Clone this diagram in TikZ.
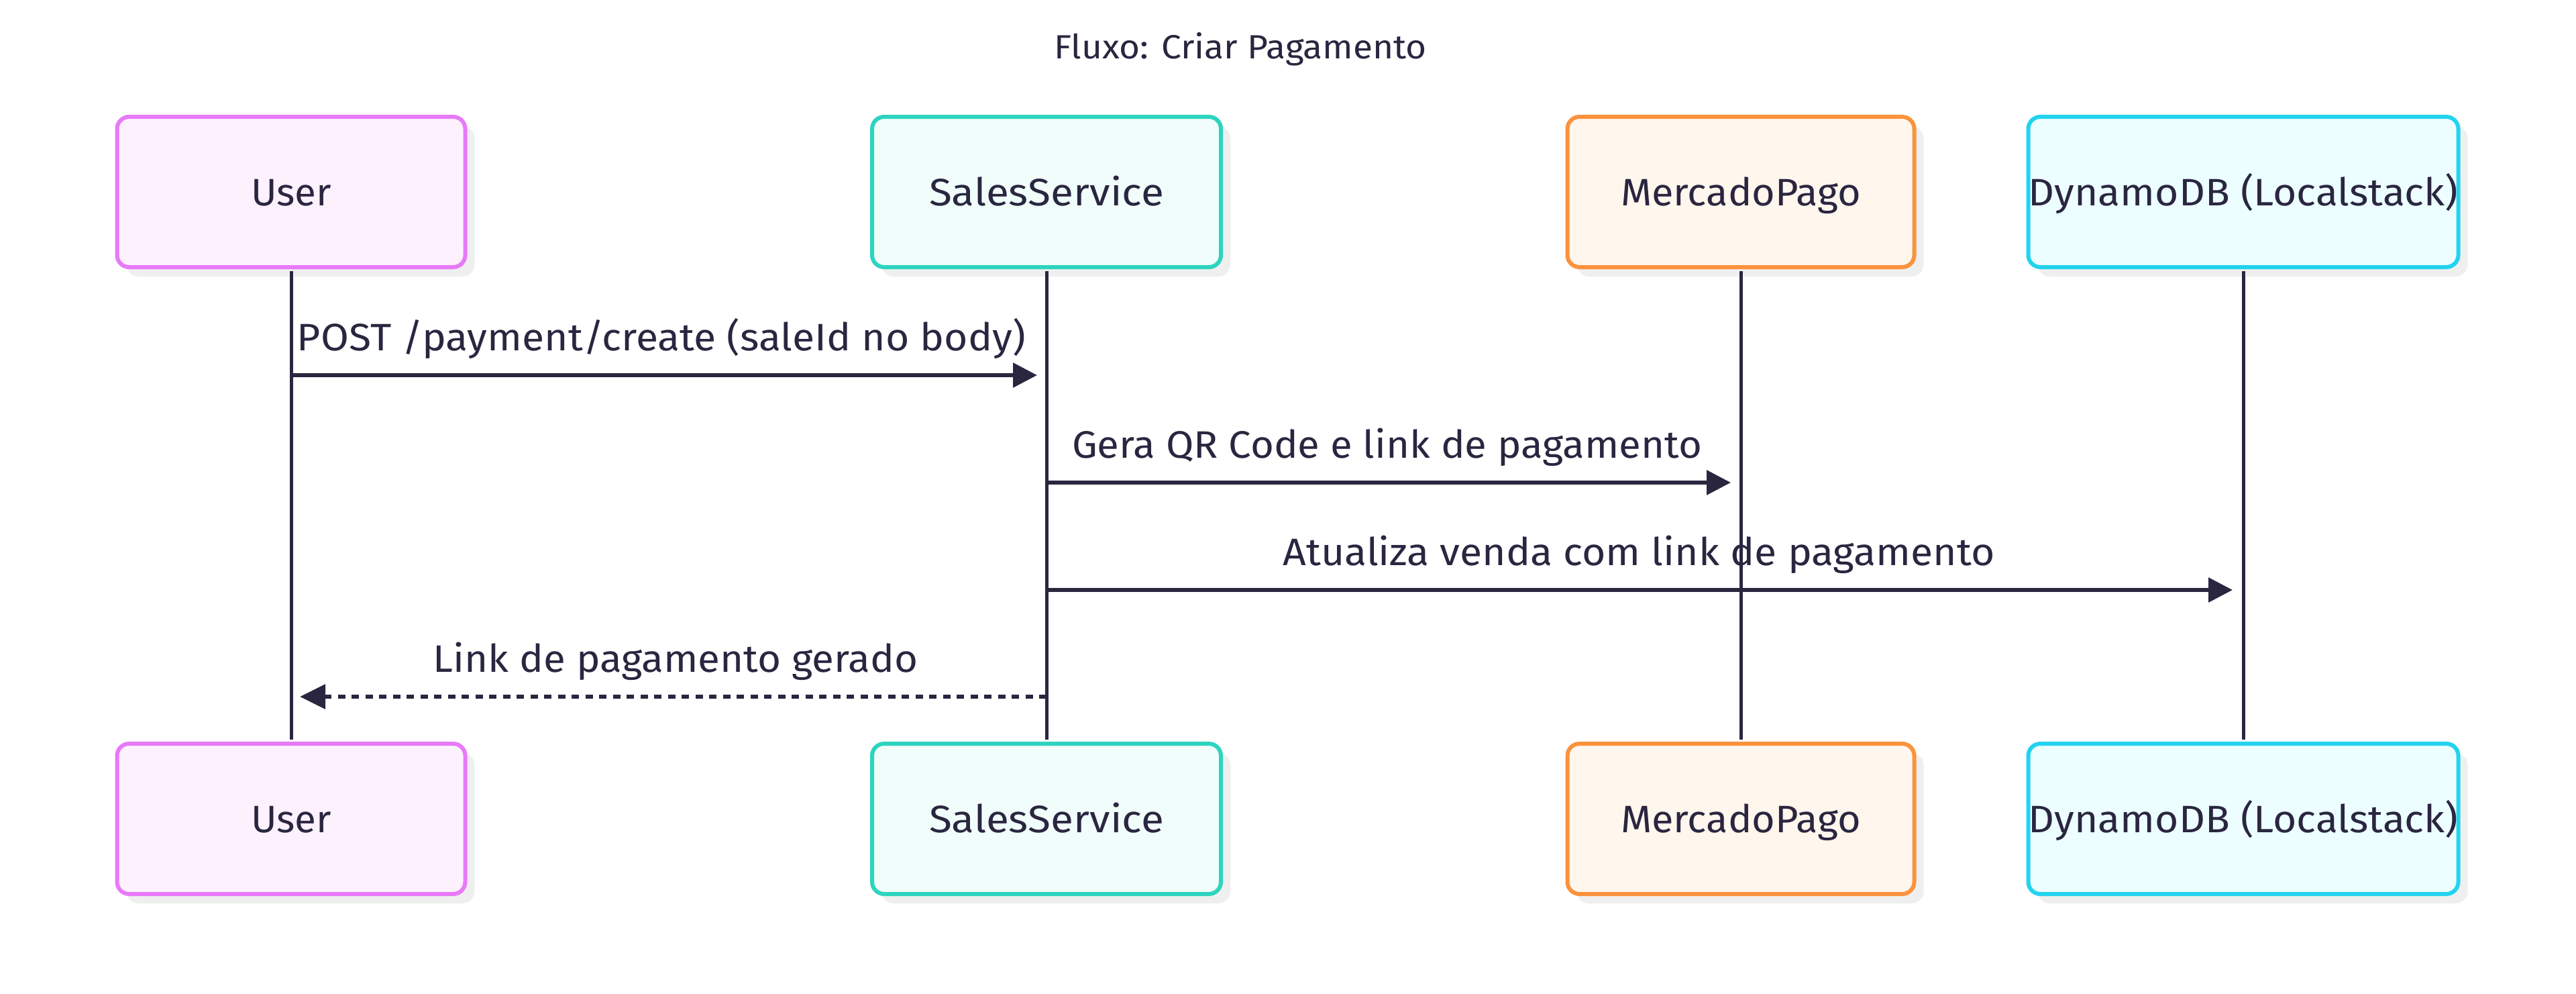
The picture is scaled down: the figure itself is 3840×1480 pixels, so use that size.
\documentclass[tikz,border=0pt]{standalone}
\usepackage{fontspec}
\usepackage{graphicx}
\setmainfont{Fira Sans}
\usetikzlibrary{arrows.meta,shadows,calc}
\definecolor{ink}{HTML}{2A2640}
\definecolor{userB}{HTML}{E879F9}
\definecolor{userF}{HTML}{FDF1FE}
\definecolor{salesB}{HTML}{2DD4BF}
\definecolor{salesF}{HTML}{F0FDFA}
\definecolor{mpB}{HTML}{FB923C}
\definecolor{mpF}{HTML}{FFF6ED}
\definecolor{dynB}{HTML}{22D3EE}
\definecolor{dynF}{HTML}{ECFEFF}
\definecolor{shadowgray}{HTML}{EFEFEF}
\newcommand{\fitw}[2]{\resizebox{#1}{\height}{#2}}
\begin{document}
\begin{tikzpicture}[x=1pt,y=-1pt,
  actor/.style={draw, line width=6pt, rounded corners=18pt,
    minimum height=224pt, inner sep=0pt, text=ink,
    text height=40pt, text depth=0pt,
    font=\fontsize{57}{68}\selectfont,
    general shadow={fill=shadowgray, shadow xshift=14pt, shadow yshift=-14pt}},
  life/.style={draw=ink, line width=5pt},
  msg/.style={draw=ink, line width=6pt, -{Triangle[length=36pt,width=36pt]}},
  reply/.style={draw=ink, line width=6pt, dash pattern=on 11pt off 9.5pt, -{Triangle[length=38pt,width=36pt]}},
  lbl/.style={anchor=base, inner sep=0pt, text=ink, font=\fontsize{57}{68}\selectfont},
  ttl/.style={anchor=base, inner sep=0pt, text=ink, font=\fontsize{50}{60}\selectfont}]
\fill[white] (0,0) rectangle (3840,1480);
\useasboundingbox (0,0) rectangle (3840,1480);

\node[ttl] (title) at (1849,87) {\fitw{556pt}{Fluxo: Criar Pagamento}};

% top actors
\node[actor, draw=userB, fill=userF, minimum width=519pt] (uTop) at (434,286) {\fitw{120pt}{User}};
\node[actor, draw=salesB, fill=salesF, minimum width=520pt] (sTop) at (1560,286) {\fitw{350pt}{SalesService}};
\node[actor, draw=mpB, fill=mpF, minimum width=517pt] (mTop) at (2595,286) {\fitw{358pt}{MercadoPago}};
\node[actor, draw=dynB, fill=dynF, minimum width=626pt] (dTop) at (3344,286) {\fitw{641pt}{DynamoDB (Localstack)}};

% bottom actors
\node[actor, draw=userB, fill=userF, minimum width=519pt] (uBot) at (434,1220) {\fitw{120pt}{User}};
\node[actor, draw=salesB, fill=salesF, minimum width=520pt] (sBot) at (1560,1220) {\fitw{350pt}{SalesService}};
\node[actor, draw=mpB, fill=mpF, minimum width=517pt] (mBot) at (2595,1220) {\fitw{358pt}{MercadoPago}};
\node[actor, draw=dynB, fill=dynF, minimum width=626pt] (dBot) at (3344,1220) {\fitw{641pt}{DynamoDB (Localstack)}};

% message rows
\coordinate (r1) at (0,559);
\coordinate (r2) at (0,719);
\coordinate (r3) at (0,879);
\coordinate (r4) at (0,1038);

\node[lbl] (l1) at ($(uTop |- r1)!0.5!(sTop |- r1) + (-11,-37)$) {\fitw{1086pt}{POST  /payment/create (saleId no body)}};
\node[lbl] (l2) at ($(sTop |- r2)!0.5!(mTop |- r2) + (-10,-37)$) {\fitw{939pt}{Gera QR Code e link de pagamento}};
\node[lbl] (l3) at ($(sTop |- r3)!0.5!(dTop |- r3) + (-9,-37)$) {\fitw{1061pt}{Atualiza venda com link de pagamento}};
\node[lbl] (l4) at ($(sTop |- r4)!0.5!(uTop |- r4) + (10,-37)$) {\fitw{723pt}{Link de pagamento gerado}};

% lifelines
\draw[life] ([yshift=-3pt]uTop.south) -- ([yshift=3pt]uBot.north);
\draw[life] ([yshift=-3pt]sTop.south) -- ([yshift=3pt]sBot.north);
\draw[life] ([yshift=-3pt]mTop.south) -- ([yshift=3pt]mBot.north);
\draw[life] ([yshift=-3pt]dTop.south) -- ([yshift=3pt]dBot.north);

% messages
\draw[msg, shorten >=14pt] (uTop |- r1) -- (sTop |- r1);
\draw[msg, shorten >=15pt] (sTop |- r2) -- (mTop |- r2);
\draw[msg, shorten >=16pt] (sTop |- r3) -- (dTop |- r3);
\draw[reply, shorten >=13pt] (sTop |- r4) -- (uTop |- r4);
\end{tikzpicture}
\end{document}
